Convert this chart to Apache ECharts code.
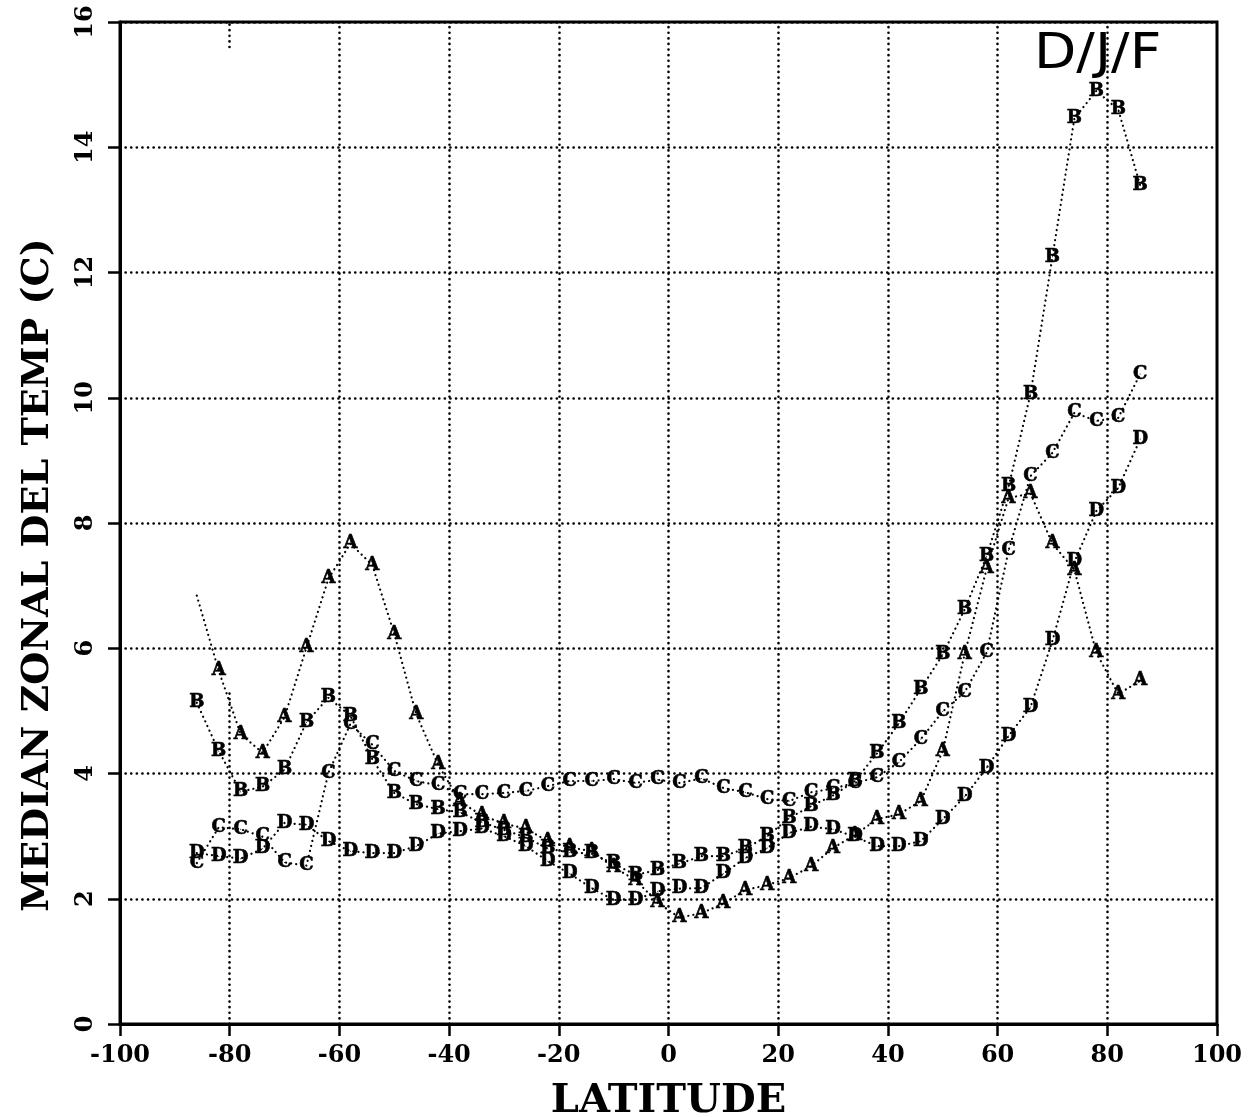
<!DOCTYPE html>
<html><head><meta charset="utf-8">
<script src="https://cdn.jsdelivr.net/npm/echarts@6/dist/echarts.min.js"></script>
<style>html,body{margin:0;padding:0;background:#fff}#c{width:1258px;height:1117px}</style>
</head><body><div id="c"></div>
<script>
const latitudes = [-86,-82,-78,-74,-70,-66,-62,-58,-54,-50,-46,-42,-38,-34,-30,-26,-22,-18,-14,-10,-6,-2,2,6,10,14,18,22,26,30,34,38,42,46,50,54,58,62,66,70,74,78,82,86];
const seriesA = [6.84,5.64,4.63,4.33,4.90,6.01,7.11,7.67,7.33,6.23,4.95,4.14,3.55,3.33,3.20,3.12,2.92,2.82,2.76,2.50,2.30,1.94,1.70,1.77,1.92,2.14,2.22,2.33,2.52,2.81,3.02,3.27,3.35,3.56,4.36,5.91,7.27,8.40,8.47,7.67,7.25,5.93,5.27,5.48];
const seriesB = [5.13,4.36,3.71,3.79,4.06,4.82,5.21,4.92,4.23,3.69,3.51,3.43,3.38,3.22,3.10,2.98,2.80,2.74,2.72,2.56,2.38,2.46,2.56,2.68,2.68,2.80,3.00,3.29,3.48,3.65,3.88,4.32,4.80,5.35,5.90,6.62,7.47,8.58,10.06,12.25,14.46,14.90,14.60,13.39];
const seriesC = [2.57,3.14,3.11,2.99,2.58,2.53,4.01,4.79,4.46,4.04,3.88,3.81,3.67,3.67,3.69,3.72,3.80,3.88,3.88,3.91,3.85,3.90,3.85,3.92,3.77,3.70,3.59,3.56,3.70,3.76,3.85,3.94,4.18,4.55,4.99,5.30,5.93,7.56,8.75,9.12,9.76,9.63,9.68,10.38];
const seriesD = [2.73,2.68,2.64,2.80,3.21,3.18,2.92,2.76,2.73,2.73,2.84,3.04,3.08,3.12,3.00,2.84,2.60,2.40,2.17,1.98,1.98,2.12,2.16,2.17,2.40,2.65,2.81,3.05,3.15,3.11,2.99,2.84,2.84,2.92,3.27,3.63,4.09,4.60,5.06,6.12,7.38,8.19,8.56,9.34];
const unlabeledA = [0]; // first point of A drawn without letter
// vertical grid lines (x positions); the -80 line is broken in the original plot
const xGridFull = [-60,-40,-20,0,20,40,60,80];
const xGridBroken = [[-80,0,5.3],[-80,15.6,16]];

const serif = 'DejaVu Serif';
const dotLine = {color:'#000', width:2.6, type:[0.1,5.5], cap:'round'};

function makeSeries(name, vals, hideIdx) {
  return {
    type:'line', name:name,
    data: latitudes.map((x,i)=>{
      const d = {value:[x, vals[i]]};
      if (hideIdx && hideIdx.indexOf(i) >= 0) d.label = {show:false};
      return d;
    }),
    symbol:'circle', symbolSize:1,
    itemStyle:{color:'#000'},
    lineStyle:{color:'#000', width:2.2, type:[0.1,5], cap:'round'},
    label:{show:true, position:'inside', formatter:name, fontFamily:serif, fontWeight:'bold', fontSize:18, color:'#000', textBorderColor:'#000', textBorderWidth:0.6},
    emphasis:{disabled:true},
    z:3
  };
}

const gridLines = xGridFull.map(x=>[{coord:[x,0]},{coord:[x,16]}])
  .concat(xGridBroken.map(s=>[{coord:[s[0],s[1]]},{coord:[s[0],s[2]]}]));

const chart = echarts.init(document.getElementById('c'), null, {renderer:'canvas'});
chart.setOption({
  animation:false,
  backgroundColor:'#fff',
  grid:{left:120, right:41, top:22, bottom:93, containLabel:false, outerBoundsMode:'none', show:true, borderColor:'#000', borderWidth:3, backgroundColor:'transparent'},
  xAxis:{
    type:'value', min:-100, max:100, interval:20,
    axisLine:{show:true, onZero:false, lineStyle:{color:'#000', width:3}},
    axisTick:{show:true, length:12, lineStyle:{color:'#000', width:2.5}},
    axisLabel:{fontFamily:serif, fontWeight:'bold', fontSize:24, color:'#000', margin:20},
    splitLine:{show:false},
    name:'LATITUDE', nameLocation:'middle', nameGap:58,
    nameTextStyle:{fontFamily:serif, fontWeight:'bold', fontSize:40, color:'#000'}
  },
  yAxis:{
    type:'value', min:0, max:16, interval:2,
    axisLine:{show:true, onZero:false, lineStyle:{color:'#000', width:3}},
    axisTick:{show:true, length:12, lineStyle:{color:'#000', width:2.5}},
    axisLabel:{fontFamily:serif, fontWeight:'bold', fontSize:24, color:'#000', margin:22, rotate:90},
    splitLine:{show:true, lineStyle:dotLine}
  },
  graphic:[
    {type:'text', left:1034, top:30, z:10, scaleX:1.1, style:{text:'D/J/F', font:'50px "DejaVu Sans"', fill:'#000'}},
    {type:'text', x:38, y:575, rotation:Math.PI/2, z:10, style:{text:'MEDIAN ZONAL DEL TEMP (C)', font:'bold 38px "DejaVu Serif"', fill:'#000', textAlign:'center', textVerticalAlign:'middle'}}
  ],
  series:[
    {type:'line', data:[], silent:true, z:1,
     markLine:{silent:true, symbol:['none','none'], label:{show:false}, lineStyle:dotLine, emphasis:{disabled:true}, data:gridLines}},
    makeSeries('A', seriesA, unlabeledA),
    makeSeries('B', seriesB),
    makeSeries('C', seriesC),
    makeSeries('D', seriesD)
  ]
});
</script></body></html>
